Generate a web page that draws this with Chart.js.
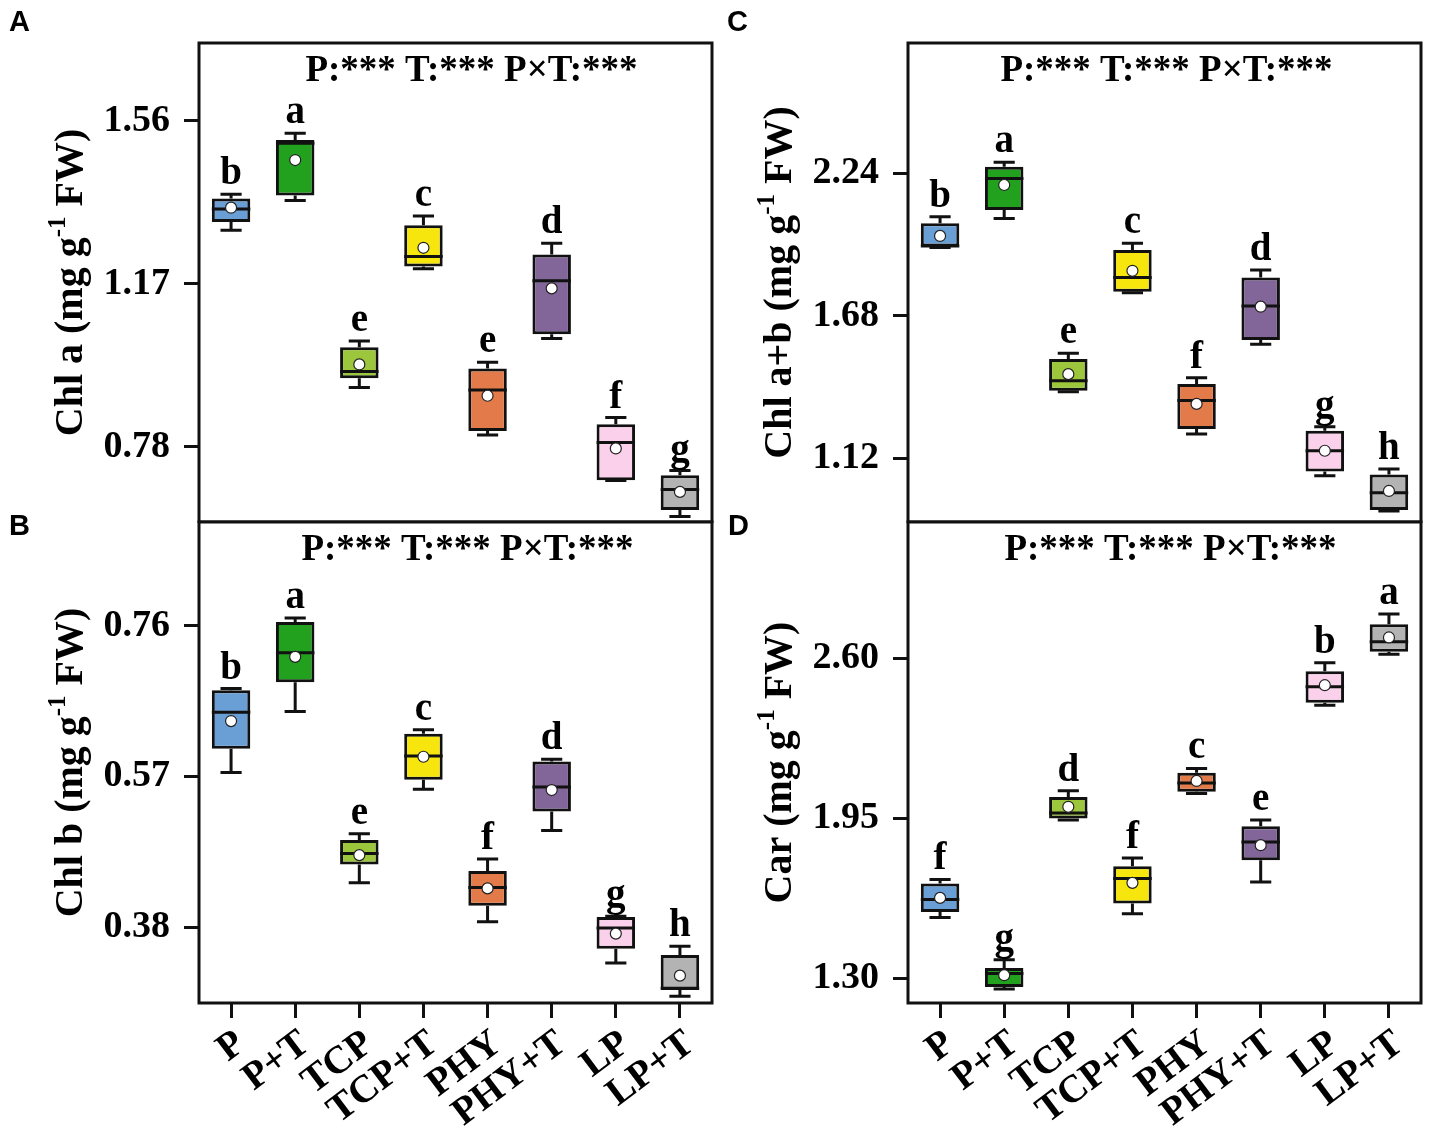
<!DOCTYPE html>
<html>
<head>
<meta charset="utf-8">
<script src="https://cdn.jsdelivr.net/npm/chart.js@4.4.1/dist/chart.umd.min.js"></script>
<style>
  body { margin: 0; background: #fff; }
  #wrap { position: relative; width: 1429px; height: 1127px; background: #fff; overflow: hidden; }
  canvas { position: absolute; }
  .tag { position: absolute; font-family: 'Liberation Sans', Arial, sans-serif; font-weight: bold; font-size: 29px; line-height: 1; }
</style>
</head>
<body>
<div id="wrap">
  <canvas id="cA" width="720" height="523" style="left:0;top:0"></canvas>
  <canvas id="cB" width="720" height="627" style="left:0;top:500px"></canvas>
  <canvas id="cC" width="714" height="523" style="left:715px;top:0"></canvas>
  <canvas id="cD" width="714" height="627" style="left:715px;top:500px"></canvas>
  <div class="tag" style="left:9px;top:7px">A</div>
  <div class="tag" style="left:9px;top:511px">B</div>
  <div class="tag" style="left:727px;top:7px">C</div>
  <div class="tag" style="left:728px;top:511px">D</div>
</div>
<script>
const categories = ['P', 'P+T', 'TCP', 'TCP+T', 'PHY', 'PHY+T', 'LP', 'LP+T'];
const boxColors = ['#6a9fd6', '#22a11f', '#9cc63b', '#f6e60d', '#e27a4a', '#826699', '#fbd0ea', '#b3b3b3'];
const effects = 'P:*** T:*** P×T:***';

// Chl a
const chlaMin  = [1.298, 1.369, 0.922, 1.206, 0.808, 1.039, 0.699, 0.613];
const chlaQ1   = [1.318, 1.381, 0.944, 1.211, 0.818, 1.049, 0.700, 0.629];
const chlaMed  = [1.349, 1.506, 0.960, 1.235, 0.916, 1.177, 0.790, 0.678];
const chlaQ3   = [1.374, 1.514, 1.018, 1.310, 0.967, 1.240, 0.834, 0.712];
const chlaMax  = [1.384, 1.530, 1.033, 1.332, 0.982, 1.267, 0.850, 0.723];
const chlaMean = [1.352, 1.466, 0.977, 1.256, 0.902, 1.159, 0.776, 0.672];
const chlaLetters = ['b', 'a', 'e', 'c', 'e', 'd', 'f', 'g'];
const chlaTicks = [0.78, 1.17, 1.56];

// Chl b
const chlbMin  = [0.575, 0.652, 0.436, 0.554, 0.387, 0.502, 0.335, 0.293];
const chlbQ1   = [0.605, 0.689, 0.459, 0.566, 0.407, 0.526, 0.353, 0.301];
const chlbMed  = [0.651, 0.726, 0.473, 0.596, 0.430, 0.557, 0.379, 0.303];
const chlbQ3   = [0.679, 0.765, 0.490, 0.624, 0.451, 0.589, 0.393, 0.345];
const chlbMax  = [0.681, 0.770, 0.498, 0.629, 0.466, 0.592, 0.394, 0.356];
const chlbMean = [0.640, 0.721, 0.471, 0.595, 0.429, 0.553, 0.372, 0.319];
const chlbLetters = ['b', 'a', 'e', 'c', 'f', 'd', 'g', 'h'];
const chlbTicks = [0.38, 0.57, 0.76];

// Chl a+b
const chlabMin  = [1.949, 2.062, 1.382, 1.771, 1.216, 1.568, 1.052, 0.913];
const chlabQ1   = [1.952, 2.096, 1.386, 1.775, 1.235, 1.585, 1.068, 0.917];
const chlabMed  = [1.954, 2.220, 1.425, 1.831, 1.347, 1.719, 1.150, 0.985];
const chlabQ3   = [2.044, 2.266, 1.510, 1.939, 1.412, 1.831, 1.229, 1.057];
const chlabMax  = [2.069, 2.283, 1.533, 1.965, 1.437, 1.860, 1.244, 1.078];
const chlabMean = [1.994, 2.194, 1.451, 1.857, 1.334, 1.716, 1.150, 0.992];
const chlabLetters = ['b', 'a', 'e', 'c', 'f', 'd', 'g', 'h'];
const chlabTicks = [1.12, 1.68, 2.24];

// Car
const carMin  = [1.547, 1.257, 1.943, 1.563, 2.051, 1.692, 2.410, 2.617];
const carQ1   = [1.570, 1.265, 1.950, 1.604, 2.058, 1.780, 2.420, 2.627];
const carMed  = [1.620, 1.320, 1.972, 1.706, 2.094, 1.854, 2.485, 2.668];
const carQ3   = [1.685, 1.342, 2.037, 1.756, 2.135, 1.918, 2.548, 2.739];
const carMax  = [1.702, 1.376, 2.062, 1.789, 2.153, 1.943, 2.582, 2.780];
const carMean = [1.627, 1.313, 1.997, 1.688, 2.102, 1.841, 2.491, 2.685];
const carLetters = ['f', 'g', 'd', 'f', 'c', 'e', 'b', 'a'];
const carTicks = [1.30, 1.95, 2.60];

const serif = "'Liberation Serif', 'Times New Roman', serif";

// whiskers, medians, letters, frame and y title
function boxPlugin(o) {
    return {
        id: 'boxParts',
        afterDatasetDraw(chart, args) {
            if (args.index !== 1) return;
            const ctx = chart.ctx;
            const y = chart.scales.y;
            const meta = chart.getDatasetMeta(1);
            ctx.save();
            ctx.strokeStyle = '#111';
            ctx.lineWidth = 3;
            meta.data.forEach((bar, i) => {
                const cx = bar.x, half = bar.width / 2;
                const cap = half * 0.55;
                const yMed = y.getPixelForValue(o.med[i]);
                const yQ3 = y.getPixelForValue(o.q3[i]);
                const yQ1 = y.getPixelForValue(o.q1[i]);
                const yHi = y.getPixelForValue(o.max[i]);
                const yLo = y.getPixelForValue(o.min[i]);
                ctx.beginPath();
                ctx.moveTo(cx - half, yMed); ctx.lineTo(cx + half, yMed);
                ctx.moveTo(cx, yQ3); ctx.lineTo(cx, yHi);
                ctx.moveTo(cx - cap, yHi); ctx.lineTo(cx + cap, yHi);
                ctx.moveTo(cx, yQ1); ctx.lineTo(cx, yLo);
                ctx.moveTo(cx - cap, yLo); ctx.lineTo(cx + cap, yLo);
                ctx.stroke();
            });
            ctx.restore();
        },
        afterDraw(chart) {
            const ctx = chart.ctx;
            const area = chart.chartArea;
            const y = chart.scales.y;
            const meta = chart.getDatasetMeta(1);
            ctx.save();
            // frame
            ctx.strokeStyle = '#111';
            ctx.lineWidth = 3;
            ctx.strokeRect(area.left, area.top, area.right - area.left, area.bottom - area.top);
            // significance letters
            ctx.fillStyle = '#000';
            ctx.font = 'bold 39px ' + serif;
            ctx.textAlign = 'center';
            ctx.textBaseline = 'alphabetic';
            meta.data.forEach((bar, i) => {
                ctx.fillText(o.letters[i], bar.x, y.getPixelForValue(o.max[i]) - 10);
            });
            // anova line
            ctx.font = 'bold 37px ' + serif;
            ctx.fillText(effects, (area.left + area.right) / 2 + o.annX, area.top + 38);
            // y title with superscript
            const tx = area.left - 131, ty = (area.top + area.bottom) / 2;
            ctx.translate(tx, ty);
            ctx.rotate(-Math.PI / 2);
            ctx.textAlign = 'left';
            const big = 'bold 40px ' + serif, small = 'bold 25px ' + serif;
            ctx.font = big;
            const w1 = ctx.measureText(o.title[0]).width;
            const w3 = ctx.measureText(o.title[2]).width;
            ctx.font = small;
            const w2 = ctx.measureText(o.title[1]).width;
            let sx = -(w1 + w2 + w3) / 2;
            const base = 14;
            ctx.font = big;
            ctx.fillText(o.title[0], sx, base);
            sx += w1;
            ctx.font = small;
            ctx.fillText(o.title[1], sx, base - 17);
            sx += w2;
            ctx.font = big;
            ctx.fillText(o.title[2], sx, base);
            ctx.restore();
        }
    };
}

function boxPanel(id, o) {
    return new Chart(document.getElementById(id), {
        data: {
            labels: categories,
            datasets: [
                {
                    type: 'line',
                    data: o.mean,
                    order: 0,
                    showLine: false,
                    pointRadius: 5.5,
                    pointHoverRadius: 5.5,
                    pointBackgroundColor: '#fff',
                    pointBorderColor: '#222',
                    pointBorderWidth: 1.2
                },
                {
                    type: 'bar',
                    data: o.q1.map((v, i) => [v, o.q3[i]]),
                    order: 1,
                    backgroundColor: boxColors,
                    borderColor: '#111',
                    borderWidth: 3,
                    borderSkipped: false,
                    barPercentage: 0.6,
                    categoryPercentage: 1
                }
            ]
        },
        options: {
            responsive: false,
            animation: false,
            devicePixelRatio: 1,
            events: [],
            layout: { padding: o.pad, autoPadding: false },
            plugins: { legend: { display: false }, tooltip: { enabled: false } },
            scales: {
                x: {
                    display: o.showX,
                    offset: true,
                    grid: { offset: false, drawOnChartArea: false, tickLength: 15, tickWidth: 3, tickColor: '#111' },
                    border: { display: false },
                    ticks: {
                        color: '#000',
                        font: { family: serif, size: 39, weight: 'bold' },
                        minRotation: 37,
                        maxRotation: 37,
                        autoSkip: false,
                        labelOffset: 10,
                        padding: 3
                    },
                    afterFit(s) {
                        s.height = o.xH;
                        s.paddingLeft = 0;
                        s.paddingRight = 0;
                    }
                },
                y: {
                    min: o.yMin,
                    max: o.yMax,
                    afterBuildTicks(s) { s.ticks = o.ticks.map(v => ({ value: v })); },
                    grid: { drawOnChartArea: false, tickLength: 15, tickWidth: 3, tickColor: '#111' },
                    border: { display: false },
                    ticks: {
                        color: '#000',
                        font: { family: serif, size: 38, weight: 'bold' },
                        padding: 14,
                        callback: v => Number(v).toFixed(2)
                    },
                    afterFit(s) {
                        s.width = o.yW;
                        s.paddingTop = 0;
                        s.paddingBottom = 0;
                    }
                }
            }
        },
        plugins: [boxPlugin(o)]
    });
}

boxPanel('cA', {
    min: chlaMin, q1: chlaQ1, med: chlaMed, q3: chlaQ3, max: chlaMax, mean: chlaMean,
    letters: chlaLetters, ticks: chlaTicks, yMin: 0.60, yMax: 1.746,
    title: ['Chl a (mg g', '-1', ' FW)'], annX: 16,
    pad: { left: 0, top: 43, right: 8, bottom: 1 }, showX: false, xH: 0, yW: 199
});
boxPanel('cB', {
    min: chlbMin, q1: chlbQ1, med: chlbMed, q3: chlbQ3, max: chlbMax, mean: chlbMean,
    letters: chlbLetters, ticks: chlbTicks, yMin: 0.2845, yMax: 0.891,
    title: ['Chl b (mg g', '-1', ' FW)'], annX: 12,
    pad: { left: 0, top: 22, right: 8, bottom: 0 }, showX: true, xH: 124, yW: 199
});
boxPanel('cC', {
    min: chlabMin, q1: chlabQ1, med: chlabMed, q3: chlabQ3, max: chlabMax, mean: chlabMean,
    letters: chlabLetters, ticks: chlabTicks, yMin: 0.87, yMax: 2.752,
    title: ['Chl a+b (mg g', '-1', ' FW)'], annX: 2,
    pad: { left: 0, top: 43, right: 8, bottom: 1 }, showX: false, xH: 0, yW: 193
});
boxPanel('cD', {
    min: carMin, q1: carQ1, med: carMed, q3: carQ3, max: carMax, mean: carMean,
    letters: carLetters, ticks: carTicks, yMin: 1.2, yMax: 3.154,
    title: ['Car (mg g', '-1', ' FW)'], annX: 6,
    pad: { left: 0, top: 22, right: 8, bottom: 0 }, showX: true, xH: 124, yW: 193
});
</script>
</body>
</html>
